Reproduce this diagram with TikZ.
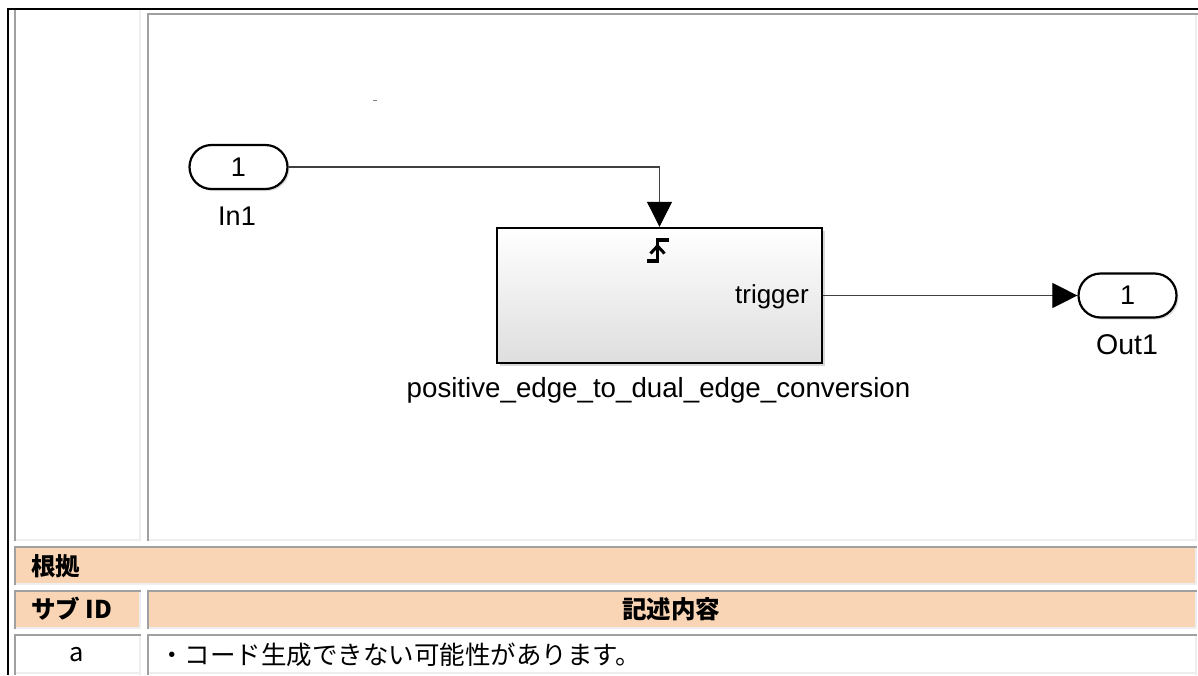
\documentclass[tikz,border=0pt]{standalone}
\usepackage{fontspec}
\setmainfont{Liberation Sans}
\newfontfamily\cjk{Noto Sans CJK JP}
\usetikzlibrary{arrows.meta,shapes.misc,shadows}
\definecolor{peach}{HTML}{FAD5B5}
\definecolor{bdark}{HTML}{A0A0A0}
\definecolor{blight}{HTML}{EEEEEE}
\definecolor{wirec}{HTML}{404040}
\tikzset{
  port/.style={draw, line width=2.2pt, rounded rectangle, minimum width=98pt, minimum height=44pt,
    inner sep=0pt, fill=white, font=\fontsize{27}{31}\selectfont,
    drop shadow={opacity=0.25, shadow xshift=2pt, shadow yshift=-2pt}},
  lbl/.style={font=\fontsize{27}{31}\selectfont, inner sep=0pt},
  wire/.style={draw=wirec, line width=1.1pt},
  tip/.style={-{Triangle[length=25pt,width=25pt,black]}},
  block/.style={draw, line width=2.4pt, minimum width=325pt, minimum height=135pt, inner sep=0pt,
    top color=white, bottom color=black!13,
    drop shadow={opacity=0.3, shadow xshift=2.5pt, shadow yshift=-2.5pt}},
  dk/.style={draw=bdark, line width=2pt},
  lt/.style={draw=blight, line width=2pt},
  jb/.style={font=\cjk\bfseries\fontsize{24.5}{28}\selectfont, inner sep=0pt},
  jr/.style={font=\cjk\fontsize{25.5}{29}\selectfont, inner sep=0pt}
}
\begin{document}
\begin{tikzpicture}[x=1pt,y=-1pt]
\useasboundingbox (0,0) rectangle (1198,675);
\fill[white] (0,0) rectangle (1198,675);
% ---- diagram row cells
\draw[lt] (140,10) -- (140,541);
\draw[lt] (14,540) -- (141,540);
\draw[dk] (15,10) -- (15,541);
\draw[lt] (1196,14) -- (1196,541);
\draw[lt] (147,540) -- (1197,540);
\draw[dk] (148,541) -- (148,14) -- (1198,14);
% ---- row: konkyo
\fill[peach] (16,548) rectangle (1195,583);
\draw[lt] (14,584) -- (1197,584);
\draw[lt] (1196,547) -- (1196,585);
\draw[dk] (15,585) -- (15,547) -- (1197,547);
% ---- row: sub id
\fill[peach] (16,592) rectangle (139,627);
\fill[peach] (149,592) rectangle (1195,627);
\draw[lt] (14,628) -- (141,628);
\draw[lt] (140,591) -- (140,629);
\draw[dk] (15,629) -- (15,591) -- (141,591);
\draw[lt] (147,628) -- (1197,628);
\draw[lt] (1196,591) -- (1196,629);
\draw[dk] (148,629) -- (148,591) -- (1197,591);
% ---- row: a
\draw[lt] (14,673) -- (141,673);
\draw[lt] (140,635) -- (140,675);
\draw[dk] (15,675) -- (15,635) -- (141,635);
\draw[lt] (147,673) -- (1197,673);
\draw[lt] (1196,635) -- (1196,675);
\draw[dk] (148,675) -- (148,635) -- (1197,635);
% ---- outer black frame
\draw[black, line width=2.5pt] (8,675) -- (8,9) -- (1198,9);
% ---- table texts
\node[jb, anchor=west] (konkyo) at (31,566) {根拠};
\node[jb, anchor=west] (subid) at (31,609) {サブ ID};
\node[jb] (kijutsu) at (671,609) {記述内容};
\node[jr] (ida) at (77,655) {a};
\node[jr, anchor=west] (desc) at (159,655) {・コード生成できない可能性があります。};
% ---- diagram
\draw[black!50, line width=1pt] (373,100) -- (377,100);
\node[port] (in1) at (238.5,167) {1};
\node[lbl] (in1lbl) at (237,216) {In1};
\node[block] (blk) at (659.5,295.5) {};
\node[lbl, anchor=east, font=\fontsize{26}{30}\selectfont] (trig) at (809,297) {trigger};
\node[lbl, font=\fontsize{27.7}{32}\selectfont] (blklbl) at (658.5,390) {positive\_edge\_to\_dual\_edge\_conversion};
\node[port] (out1) at (1127.5,295.5) {1};
\node[lbl, font=\fontsize{28.5}{32}\selectfont] (out1lbl) at (1127,345) {Out1};
\draw[line width=3.5pt] (647,261) -- (657.5,261) -- (657.5,240) -- (669,240);
\draw[line width=3pt] (650.5,253.5) -- (657.5,246) -- (664.5,253.5);
\draw[wire, tip] (in1.east) -| (blk.north);
\draw[wire, tip] (blk.east |- out1.west) -- (out1.west);
\end{tikzpicture}
\end{document}
